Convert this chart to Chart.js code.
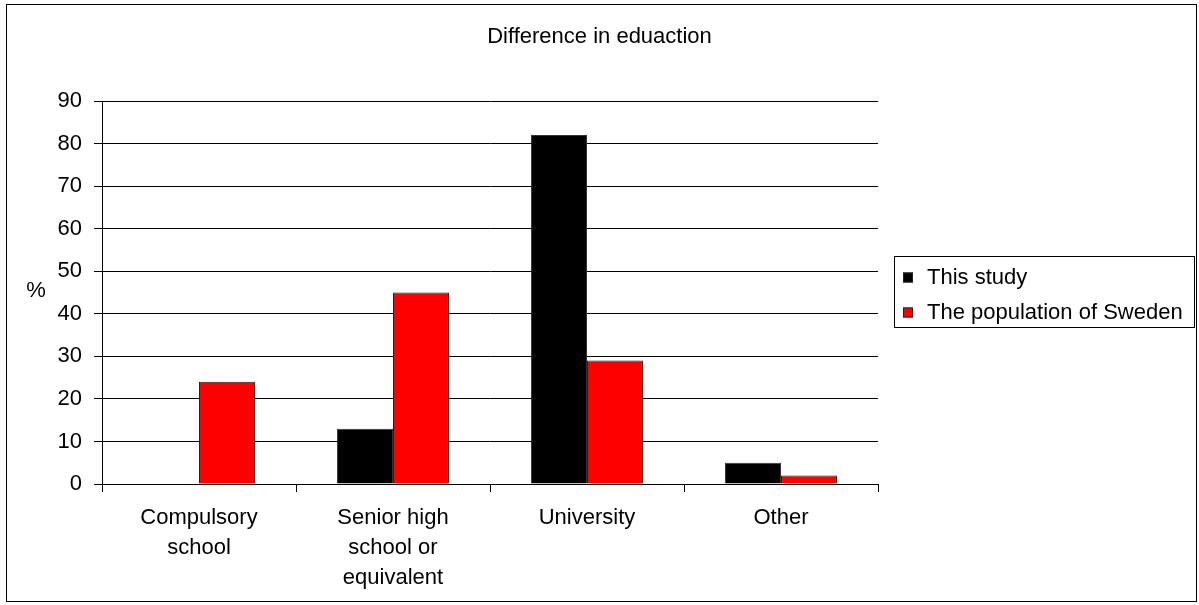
<!DOCTYPE html>
<html lang="en">
<head>
    <meta charset="UTF-8">
    <title>Difference in eduaction</title>
    <style>
        body { margin: 0; background: #fff; }
    </style>
</head>
<body>
    <canvas id="eduChart" width="1199" height="605"></canvas>

    <script src="https://cdn.jsdelivr.net/npm/chart.js@4/dist/chart.umd.min.js"></script>
    <script>
    // data
    var categories = [['Compulsory', 'school'], ['Senior high', 'school or', 'equivalent'], 'University', 'Other'];
    var seriesNames = ['This study', 'The population of Sweden'];
    var thisStudy = [0, 13, 82, 5];
    var sweden = [24, 45, 29, 2];
    var yMin = 0, yMax = 90, yStep = 10;
    var yTitle = '%';
    var chartTitle = 'Difference in eduaction';

    Chart.defaults.font.family = '"Liberation Sans", Arial, sans-serif';
    Chart.defaults.font.size = 22;
    Chart.defaults.color = '#000';

    // outer frame, title over the whole width, "%" label and the boxed legend
    var extras = {
        id: 'extras',
        afterDraw: function (chart) {
            var ctx = chart.ctx;
            var area = chart.chartArea;
            ctx.save();
            ctx.strokeStyle = '#000';
            ctx.lineWidth = 1;
            ctx.strokeRect(6.5, 4.5, 1190, 597);

            ctx.fillStyle = '#000';
            ctx.font = '22px "Liberation Sans", Arial, sans-serif';
            ctx.textAlign = 'center';
            ctx.textBaseline = 'middle';
            ctx.fillText(chartTitle, chart.width / 2, 37);
            ctx.fillText(yTitle, 36, (area.top + area.bottom) / 2 - 2);

            // legend
            var sets = chart.data.datasets;
            var left = area.right + 16;
            var top = Math.round((area.top + area.bottom) / 2 - 37) + 0.5;
            ctx.strokeRect(left + 0.5, top, 300, 71);
            ctx.textAlign = 'left';
            for (var i = 0; i < sets.length; i++) {
                var cy = top + 21 + i * 35;
                ctx.fillStyle = sets[i].backgroundColor;
                ctx.fillRect(left + 9, cy - 5, 10, 10);
                ctx.strokeStyle = '#222';
                ctx.strokeRect(left + 9.5, cy - 4.5, 9, 9);
                ctx.fillStyle = '#000';
                ctx.fillText(sets[i].label, left + 33, cy);
            }
            ctx.restore();
        }
    };

    new Chart(document.querySelector('#eduChart'), {
        type: 'bar',
        data: {
            labels: categories,
            datasets: [{
                label: seriesNames[0],
                data: thisStudy,
                backgroundColor: '#000000',
                borderColor: '#333',
                borderWidth: 1
            }, {
                label: seriesNames[1],
                data: sweden,
                backgroundColor: '#ff0000',
                borderColor: '#222',
                borderWidth: 1
            }]
        },
        options: {
            responsive: false,
            animation: false,
            datasets: {
                bar: { categoryPercentage: 0.577, barPercentage: 1 }
            },
            layout: {
                padding: { left: 7, right: 321, top: 101, bottom: 0 }
            },
            plugins: {
                legend: { display: false },
                tooltip: { enabled: false },
                title: { display: false }
            },
            scales: {
                x: {
                    grid: {
                        offset: true,
                        drawOnChartArea: false,
                        drawTicks: true,
                        tickLength: 8,
                        color: '#000'
                    },
                    border: { display: true, color: '#000', width: 1 },
                    ticks: {
                        padding: 11,
                        maxRotation: 0,
                        autoSkip: false,
                        font: { size: 22, lineHeight: 1.36 }
                    },
                    afterFit: function (scale) { scale.height = 121; }
                },
                y: {
                    min: yMin,
                    max: yMax,
                    ticks: { stepSize: yStep, padding: 12 },
                    grid: { color: '#000', tickLength: 8, lineWidth: 1 },
                    border: { display: true, color: '#000', width: 1 },
                    afterFit: function (scale) { scale.width = 95; }
                }
            }
        },
        plugins: [extras]
    });
    </script>
</body>
</html>
